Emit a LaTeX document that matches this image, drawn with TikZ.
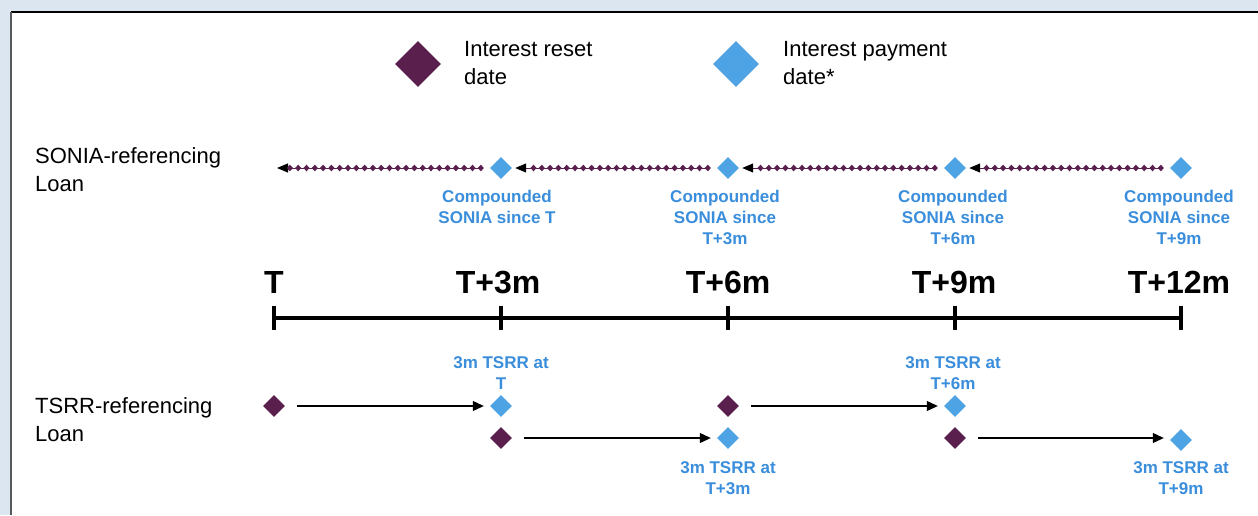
\documentclass[tikz,border=0pt]{standalone}
\usepackage{fontspec}
\setmainfont{Liberation Sans}
\usetikzlibrary{shapes.geometric,arrows.meta,decorations.markings}
\definecolor{bgblue}{HTML}{DCE6F1}
\definecolor{dpurple}{HTML}{5A1F4D}
\definecolor{lblue}{HTML}{4DA3E3}
\definecolor{tblue}{HTML}{3A8EDB}
\begin{document}
\begin{tikzpicture}[x=1pt,y=-1pt,
  rdia/.style={diamond, aspect=1, fill=dpurple, inner sep=0pt, minimum width=22pt, minimum height=22pt},
  bdia/.style={diamond, aspect=1, fill=lblue, inner sep=0pt, minimum width=22pt, minimum height=22pt},
  bigdia/.style={minimum width=46pt, minimum height=46pt},
  lbl/.style={text=tblue, font=\fontsize{17}{21}\selectfont\bfseries, align=center, inner sep=0pt, anchor=north},
  leg/.style={font=\fontsize{22}{28}\selectfont, align=left, inner sep=0pt, anchor=north west},
  tlab/.style={font=\fontsize{32}{36}\selectfont\bfseries, inner sep=0pt, anchor=base},
  axis/.style={line width=3.5pt},
  fixarrow/.style={draw=black, line width=1.1pt, -{Triangle[length=11pt,width=10pt]}, shorten <=12pt, shorten >=6pt},
  comp/.style={draw=dpurple, line width=1pt, -{Triangle[length=11pt,width=9pt,color=black]},
    shorten <=8pt, shorten >=3pt, postaction={decorate},
    decoration={markings, mark=between positions 9pt and -14pt step 8.3pt with
      {\fill[dpurple] (-3.1pt,0pt)--(0pt,3.3pt)--(3.1pt,0pt)--(0pt,-3.3pt)--cycle;}}}
]
\useasboundingbox (0,0) rectangle (1258,515);
\fill[bgblue] (0,0) rectangle (1258,515);
\fill[white] (11,12) rectangle (1258,515);
\draw[black, line width=1.5pt] (11,12) -- (1258,12);
\draw[gray!70!black, line width=2pt] (11,12) -- (11,515);

% legend
\node[rdia, bigdia] (legr) at (418,64) {};
\node[bdia, bigdia] (legb) at (736,64) {};
\node[leg] (legrt) at (464,41) {Interest reset\\date};
\node[leg] (legbt) at (783,41) {Interest payment\\date*};

% row titles
\node[leg] (sonl) at (35,147) {SONIA-referencing\\Loan};
\node[leg] (tsrl) at (35,397) {TSRR-referencing\\Loan};

% timeline
\coordinate (t0) at (274,318);
\coordinate (t1) at (501,318);
\coordinate (t2) at (728,318);
\coordinate (t3) at (955,318);
\coordinate (t4) at (1181,318);
\draw[axis] (t0) -- (t4);
\foreach \i in {0,...,4} {
  \draw[axis] ([yshift=12pt]t\i) -- ([yshift=-12pt]t\i);
}
\node[tlab] (l0) at (274,293) {T};
\node[tlab] (l1) at (498,293) {T+3m};
\node[tlab] (l2) at (728,293) {T+6m};
\node[tlab] (l3) at (954,293) {T+9m};
\node[tlab] (l4) at (1179,293) {T+12m};

% SONIA row
\coordinate (s0) at (274,168);
\node[bdia] (s1) at (501,168) {};
\node[bdia] (s2) at (728,168) {};
\node[bdia] (s3) at (955,168) {};
\node[bdia] (s4) at (1181,168) {};
\draw[comp] (s1.west) -- (s0);
\draw[comp] (s2.west) -- (s1.east);
\draw[comp] (s3.west) -- (s2.east);
\draw[comp] (s4.west) -- (s3.east);
\node[lbl] (c1) at (497,190) {Compounded\\SONIA since T};
\node[lbl] (c2) at (725,190) {Compounded\\SONIA since\\T+3m};
\node[lbl] (c3) at (953,190) {Compounded\\SONIA since\\T+6m};
\node[lbl] (c4) at (1179,190) {Compounded\\SONIA since\\T+9m};

% TSRR row
\node[rdia] (r1) at (274,406) {};
\node[bdia] (p1) at (501,406) {};
\node[rdia] (r2) at (501,438) {};
\node[bdia] (p2) at (728,438) {};
\node[rdia] (r3) at (728,406) {};
\node[bdia] (p3) at (955,406) {};
\node[rdia] (r4) at (955,438) {};
\node[bdia] (p4) at (1181,440) {};
\draw[fixarrow] (r1.east) -- (p1.west);
\draw[fixarrow] (r2.east) -- (p2.west);
\draw[fixarrow] (r3.east) -- (p3.west);
\draw[fixarrow] (r4.east) -- (p4.west |- r4.east);
\node[lbl] (q1) at (501,356) {3m TSRR at\\T};
\node[lbl] (q3) at (953,356) {3m TSRR at\\T+6m};
\node[lbl] (q2) at (728,461) {3m TSRR at\\T+3m};
\node[lbl] (q4) at (1181,461) {3m TSRR at\\T+9m};
\end{tikzpicture}
\end{document}
